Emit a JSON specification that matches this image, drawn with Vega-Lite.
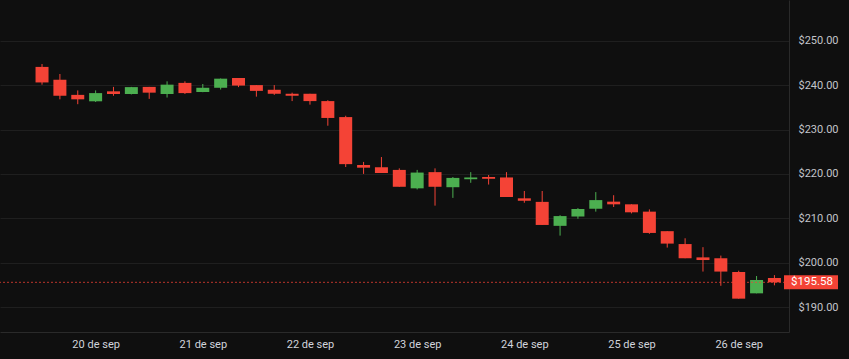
{
  "$schema": "https://vega.github.io/schema/vega-lite/v6.json",
  "width": 789,
  "height": 332,
  "autosize": {"type": "none"},
  "padding": {"left": 0, "top": 0, "right": 60, "bottom": 27},
  "background": "#0f0f0f",
  "config": {
    "view": {"stroke": null},
    "font": "Roboto"
  },
  "data": {
    "values": [
      {"date": "2024-09-19T12:00:00Z", "open": 244.1, "high": 244.75, "low": 240.1, "close": 240.6},
      {"date": "2024-09-19T16:00:00Z", "open": 241.2, "high": 242.5, "low": 236.8, "close": 237.6},
      {"date": "2024-09-19T20:00:00Z", "open": 237.8, "high": 238.8, "low": 235.7, "close": 236.8},
      {"date": "2024-09-20T00:00:00Z", "open": 236.35, "high": 238.8, "low": 236.2, "close": 238.2},
      {"date": "2024-09-20T04:00:00Z", "open": 238.6, "high": 239.6, "low": 237.6, "close": 238.0},
      {"date": "2024-09-20T08:00:00Z", "open": 238.0, "high": 239.6, "low": 237.9, "close": 239.55},
      {"date": "2024-09-20T12:00:00Z", "open": 239.6, "high": 239.6, "low": 236.9, "close": 238.3},
      {"date": "2024-09-20T16:00:00Z", "open": 238.0, "high": 240.85, "low": 237.2, "close": 240.1},
      {"date": "2024-09-20T20:00:00Z", "open": 240.5, "high": 240.85, "low": 238.0, "close": 238.2},
      {"date": "2024-09-21T00:00:00Z", "open": 238.45, "high": 240.25, "low": 238.4, "close": 239.4},
      {"date": "2024-09-21T04:00:00Z", "open": 239.4, "high": 241.5, "low": 239.0, "close": 241.45},
      {"date": "2024-09-21T08:00:00Z", "open": 241.6, "high": 241.6, "low": 239.55, "close": 239.9},
      {"date": "2024-09-21T12:00:00Z", "open": 240.0, "high": 240.0, "low": 237.4, "close": 238.7},
      {"date": "2024-09-21T16:00:00Z", "open": 238.95, "high": 240.0, "low": 237.8, "close": 238.05},
      {"date": "2024-09-21T20:00:00Z", "open": 238.05, "high": 238.3, "low": 236.4, "close": 237.6},
      {"date": "2024-09-22T00:00:00Z", "open": 238.05, "high": 238.05, "low": 235.6, "close": 236.4},
      {"date": "2024-09-22T04:00:00Z", "open": 236.4, "high": 236.6, "low": 230.85, "close": 232.6},
      {"date": "2024-09-22T08:00:00Z", "open": 232.8, "high": 233.1, "low": 221.55, "close": 222.2},
      {"date": "2024-09-22T12:00:00Z", "open": 222.0, "high": 222.7, "low": 220.0, "close": 221.4},
      {"date": "2024-09-22T16:00:00Z", "open": 221.5, "high": 223.8, "low": 220.2, "close": 220.2},
      {"date": "2024-09-22T20:00:00Z", "open": 220.9, "high": 221.25, "low": 217.1, "close": 217.1},
      {"date": "2024-09-23T00:00:00Z", "open": 216.75, "high": 220.9, "low": 216.5, "close": 220.3},
      {"date": "2024-09-23T04:00:00Z", "open": 220.4, "high": 221.25, "low": 212.85, "close": 217.1},
      {"date": "2024-09-23T08:00:00Z", "open": 217.0, "high": 219.3, "low": 214.6, "close": 219.1},
      {"date": "2024-09-23T12:00:00Z", "open": 218.8, "high": 220.4, "low": 218.0, "close": 219.2},
      {"date": "2024-09-23T16:00:00Z", "open": 219.3, "high": 219.75, "low": 217.6, "close": 218.9},
      {"date": "2024-09-23T20:00:00Z", "open": 219.2, "high": 220.4, "low": 214.8, "close": 214.8},
      {"date": "2024-09-24T00:00:00Z", "open": 214.5, "high": 216.15, "low": 213.5, "close": 213.95},
      {"date": "2024-09-24T04:00:00Z", "open": 213.7, "high": 216.15, "low": 208.5, "close": 208.5},
      {"date": "2024-09-24T08:00:00Z", "open": 208.3, "high": 210.7, "low": 206.1, "close": 210.5},
      {"date": "2024-09-24T12:00:00Z", "open": 210.4, "high": 212.3, "low": 209.9, "close": 212.1},
      {"date": "2024-09-24T16:00:00Z", "open": 212.15, "high": 215.9, "low": 211.5, "close": 214.1},
      {"date": "2024-09-24T20:00:00Z", "open": 213.75, "high": 215.2, "low": 212.55, "close": 213.15},
      {"date": "2024-09-25T00:00:00Z", "open": 213.15, "high": 213.15, "low": 211.1, "close": 211.35},
      {"date": "2024-09-25T04:00:00Z", "open": 211.5, "high": 212.0, "low": 206.5, "close": 206.7},
      {"date": "2024-09-25T08:00:00Z", "open": 207.1, "high": 207.1, "low": 203.4, "close": 204.3},
      {"date": "2024-09-25T12:00:00Z", "open": 204.2, "high": 205.5, "low": 201.0, "close": 201.0},
      {"date": "2024-09-25T16:00:00Z", "open": 201.2, "high": 203.5, "low": 198.0, "close": 200.6},
      {"date": "2024-09-25T20:00:00Z", "open": 201.0, "high": 201.6, "low": 194.8, "close": 198.0},
      {"date": "2024-09-26T00:00:00Z", "open": 197.9, "high": 198.2, "low": 191.9, "close": 191.9},
      {"date": "2024-09-26T04:00:00Z", "open": 193.1, "high": 197.0, "low": 193.1, "close": 196.1},
      {"date": "2024-09-26T08:00:00Z", "open": 196.55, "high": 197.2, "low": 194.9, "close": 195.58}
    ]
  },
  "layer": [
    {
      "mark": {"type": "rule", "strokeWidth": 1},
      "encoding": {
        "x": {
          "field": "date",
          "type": "temporal",
          "scale": {
            "type": "utc",
            "domain": [
              {"year": 2024, "month": 9, "date": 19, "hours": 3, "minutes": 42, "seconds": 30, "utc": true},
              {"year": 2024, "month": 9, "date": 26, "hours": 10, "minutes": 8, "seconds": 40, "utc": true}
            ]
          },
          "axis": {
            "title": null,
            "values": [
              {"year": 2024, "month": 9, "date": 20, "utc": true},
              {"year": 2024, "month": 9, "date": 21, "utc": true},
              {"year": 2024, "month": 9, "date": 22, "utc": true},
              {"year": 2024, "month": 9, "date": 23, "utc": true},
              {"year": 2024, "month": 9, "date": 24, "utc": true},
              {"year": 2024, "month": 9, "date": 25, "utc": true},
              {"year": 2024, "month": 9, "date": 26, "utc": true}
            ],
            "labelExpr": "utcFormat(datum.value, '%-d') + ' de sep'",
            "grid": false,
            "ticks": false,
            "domainColor": "#2a2a2a",
            "labelColor": "#d1d4dc",
            "labelFont": "Roboto",
            "labelFontSize": 11,
            "labelPadding": 6,
            "labelFlush": false
          }
        },
        "y": {
          "field": "low",
          "type": "quantitative",
          "scale": {"domain": [184.39, 259.17], "zero": false, "nice": false},
          "axis": {
            "title": null,
            "orient": "right",
            "values": [190, 200, 210, 220, 230, 240, 250],
            "format": "$.2f",
            "grid": true,
            "gridColor": "#1f1f1f",
            "ticks": false,
            "domainColor": "#2a2a2a",
            "labelColor": "#c2c4ca",
            "labelFont": "Roboto",
            "labelFontSize": 11,
            "labelPadding": 9,
            "labelAlign": "left"
          }
        },
        "y2": {"field": "high"},
        "color": {
          "condition": {"test": "datum.close > datum.open", "value": "#4caf50"},
          "value": "#f44336"
        }
      }
    },
    {
      "mark": {"type": "bar", "size": 13},
      "encoding": {
        "x": {"field": "date", "type": "temporal"},
        "y": {"field": "open", "type": "quantitative"},
        "y2": {"field": "close"},
        "color": {
          "condition": {"test": "datum.close > datum.open", "value": "#4caf50"},
          "value": "#f44336"
        }
      }
    },
    {
      "data": {"values": [{"last": 195.58}]},
      "layer": [
        {
          "mark": {"type": "rule", "color": "#f44336", "opacity": 0.75, "strokeDash": [2, 2], "strokeWidth": 1},
          "encoding": {
            "y": {"field": "last", "type": "quantitative"}
          }
        },
        {
          "mark": {"type": "rect", "color": "#f44336", "x2Offset": 54, "yOffset": -7, "y2Offset": 7},
          "encoding": {
            "x": {"datum": {"year": 2024, "month": 9, "date": 26, "hours": 10, "minutes": 8, "seconds": 40, "utc": true}, "type": "temporal"},
            "x2": {"datum": {"year": 2024, "month": 9, "date": 26, "hours": 10, "minutes": 8, "seconds": 40, "utc": true}},
            "y": {"field": "last", "type": "quantitative"},
            "y2": {"field": "last"}
          }
        },
        {
          "mark": {"type": "text", "color": "#ffffff", "font": "Roboto", "fontSize": 11.5, "align": "center", "baseline": "middle", "dx": 28},
          "encoding": {
            "x": {"datum": {"year": 2024, "month": 9, "date": 26, "hours": 10, "minutes": 8, "seconds": 40, "utc": true}, "type": "temporal"},
            "y": {"field": "last", "type": "quantitative"},
            "text": {"field": "last", "type": "quantitative", "format": "$.2f"}
          }
        }
      ]
    }
  ]
}
